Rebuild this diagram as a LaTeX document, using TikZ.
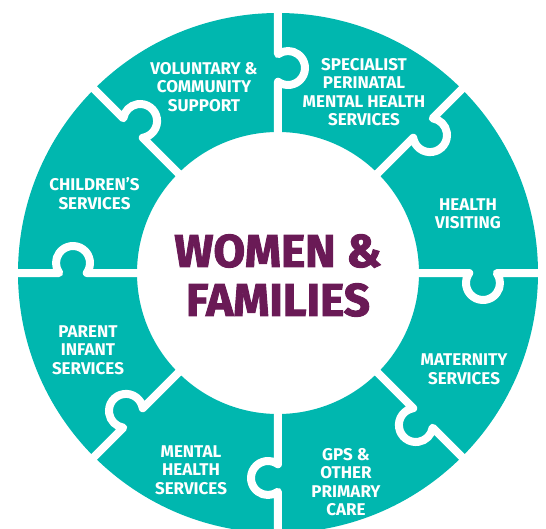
\documentclass[tikz,border=0pt]{standalone}
\usepackage{fontspec}
\setmainfont{Fira Sans}
\newfontfamily\titlefont{Fira Sans}[BoldFeatures={FakeBold=2}]
\definecolor{puzzleteal}{RGB}{0,183,175}
\definecolor{wfpurple}{RGB}{106,26,86}
\tikzset{
  seglabel/.style={text=white,align=center,font=\bfseries\fontsize{17}{18.5}\selectfont},
  gapline/.style={white,line width=8pt,line join=round,line cap=round},
}
\begin{document}
\begin{tikzpicture}[x=1pt,y=1pt]
        \useasboundingbox (-278,-255) rectangle (268,273);
        \fill[puzzleteal,even odd rule](0,0) circle (260pt) (0,0) circle (141pt);
        \foreach \a in {0,45,...,315}
            \draw[gapline,rotate=\a](130,0) -- (191.25,0) arc[start angle=144,end angle=396,radius=17pt] -- (275,0);
        \node[font=\titlefont\bfseries\fontsize{46}{49}\selectfont,text=wfpurple,align=center] (title) at (0,-2.5) {WOMEN \&\\FAMILIES};
        \node[seglabel] (vol) at (-74,186) {VOLUNTARY \&\\COMMUNITY\\SUPPORT};
        \node[seglabel] (spec) at (86,181) {SPECIALIST\\PERINATAL\\MENTAL HEALTH\\SERVICES};
        \node[seglabel] (hv) at (190,59) {HEALTH\\VISITING};
        \node[seglabel] (mat) at (186,-96) {MATERNITY\\SERVICES};
        \node[seglabel] (gp) at (68,-209) {GPS \&\\OTHER\\PRIMARY\\CARE};
        \node[seglabel] (mh) at (-87,-197) {MENTAL\\HEALTH\\SERVICES};
        \node[seglabel] (pi) at (-190,-77) {PARENT\\INFANT\\SERVICES};
        \node[seglabel] (ch) at (-183.5,79.5) {CHILDREN’S\\SERVICES};
    \end{tikzpicture}
\end{document}
